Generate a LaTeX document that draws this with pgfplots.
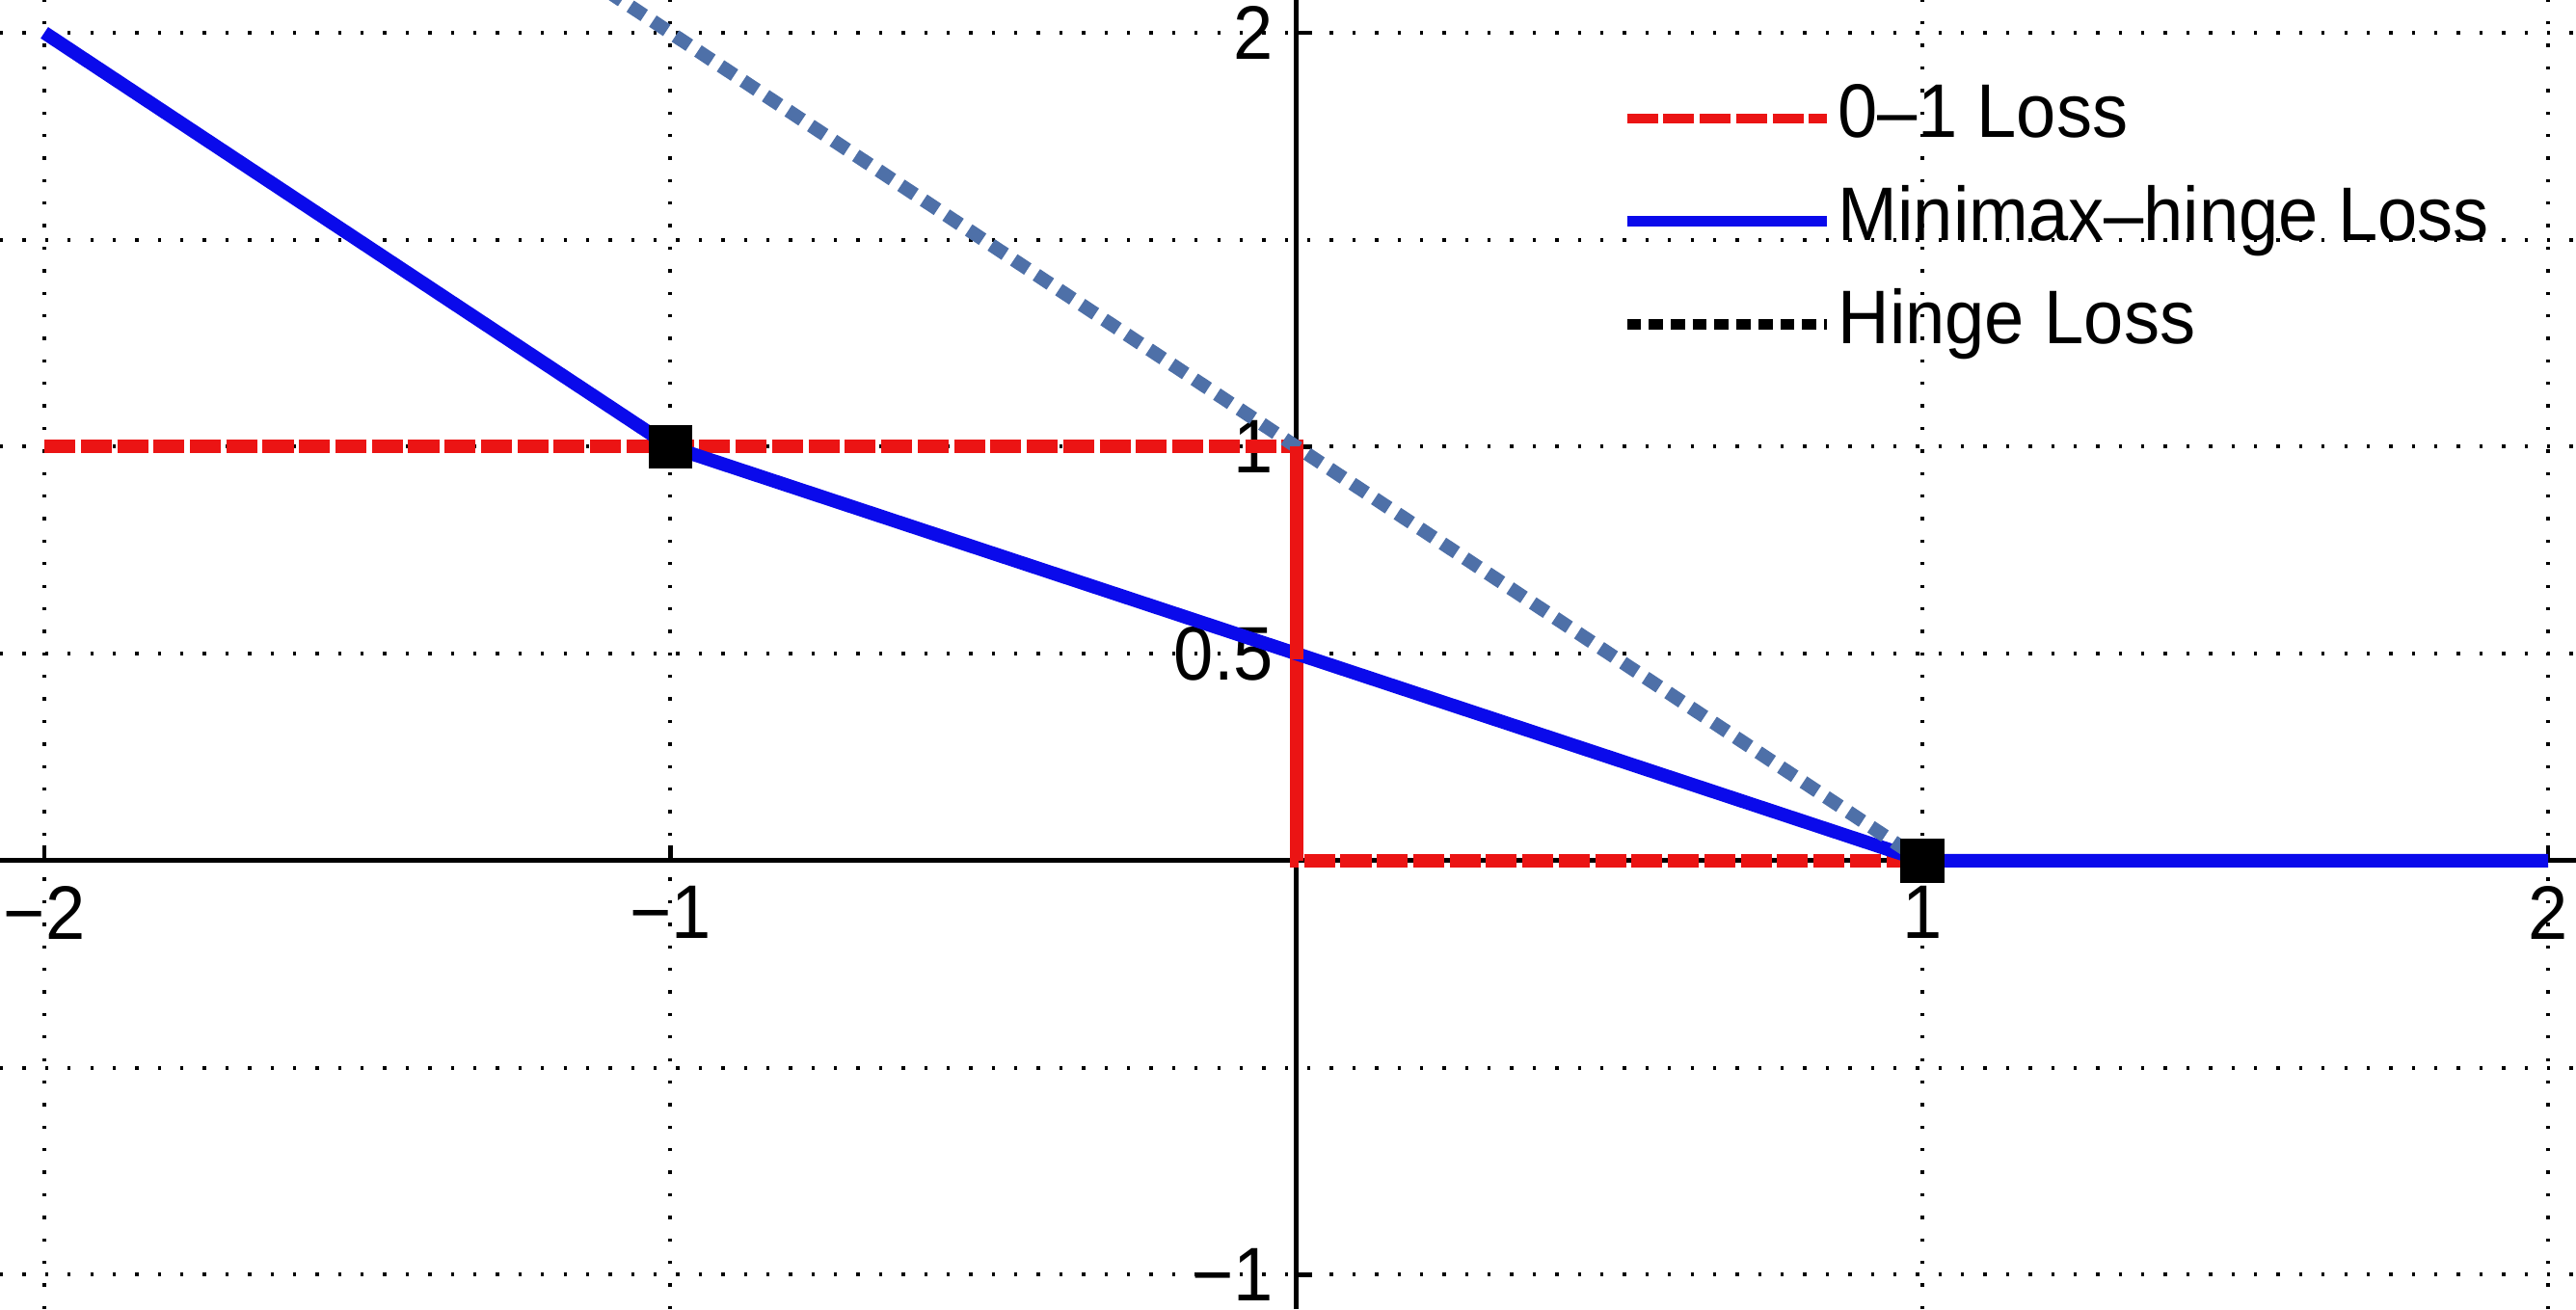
\documentclass[border=0pt]{standalone}
\usepackage{pgfplots}
\pgfplotsset{compat=1.18}
\usepackage{fontspec}
\setmainfont{Liberation Sans}[FakeStretch=0.94]
\definecolor{lred}{RGB}{235,20,20}
\definecolor{lblue}{RGB}{10,10,235}
\definecolor{hingec}{RGB}{78,112,168}
\begin{document}
\begin{tikzpicture}
\begin{axis}[name=ax, scale only axis, width=400pt, height=203.3pt,
  xmin=-2.0709, xmax=2.0446, ymin=-1.0833, ymax=2.079,
  axis lines=middle, axis line style={-, line width=0.7pt, black},
  xtick={-2,-1,1,2}, xticklabels={−2,−1,1,2},
  ytick={-1,0.5,1,2}, yticklabels={−1,0.5,1,2},
  extra y ticks={-0.5,1.5}, extra y tick labels={},
  extra y tick style={major tick length=0pt, grid=major},
  tick align=inside, major tick length=2.4pt,
  tick style={line width=0.7pt, black},
  grid=major,
  major grid style={black, line width=0.6pt, dash pattern=on 0.5pt off 3pt},
  ticklabel style={font=\fontsize{11.8}{14}\selectfont},
  xticklabel style={yshift=-0.5pt},
  legend image code/.code={\draw[#1, line width=1.6pt] (0pt,0pt) -- (31pt,0pt);},
  legend cell align=left,
  legend style={at={(axis cs:0.518,1.897)}, anchor=north west, draw=none, fill=none,
    inner sep=0pt, column sep=0pt, row sep=3pt,
    nodes={inner sep=1pt, text height=8.5pt, text depth=2.5pt},
    font=\fontsize{11.8}{14}\selectfont},
]
\addplot[lred, line width=2.1pt, dash pattern=on 4.8pt off 0.85pt] coordinates {(-2,1) (0,1) (0,0) (1,0)};
\addlegendentry{0–1 Loss}
\addplot[lblue, line width=2.1pt] coordinates {(-2,2) (-1,1) (1,0) (2,0)};
\addlegendentry{Minimax–hinge Loss}
\addplot[hingec, line width=2.1pt, dash pattern=on 2.6pt off 1.6pt,
  legend image code/.code={\draw[black, line width=1.6pt, dash pattern=on 2.2pt off 1.2pt] (0pt,0pt) -- (31pt,0pt);}]
  coordinates {(-1.1,2.1) (1,0)};
\addlegendentry{Hinge Loss}
\addplot[lred, line width=2.1pt, dash pattern=on 4.8pt off 0.85pt, forget plot] coordinates {(0,1) (0,0)};
\addplot[only marks, mark=square*, mark size=3.2pt, mark options={black, fill=black}, forget plot] coordinates {(-1,1) (1,0)};
\end{axis}
\pgfresetboundingbox
\path (ax.south west) rectangle (ax.north east);
\end{tikzpicture}
\end{document}
